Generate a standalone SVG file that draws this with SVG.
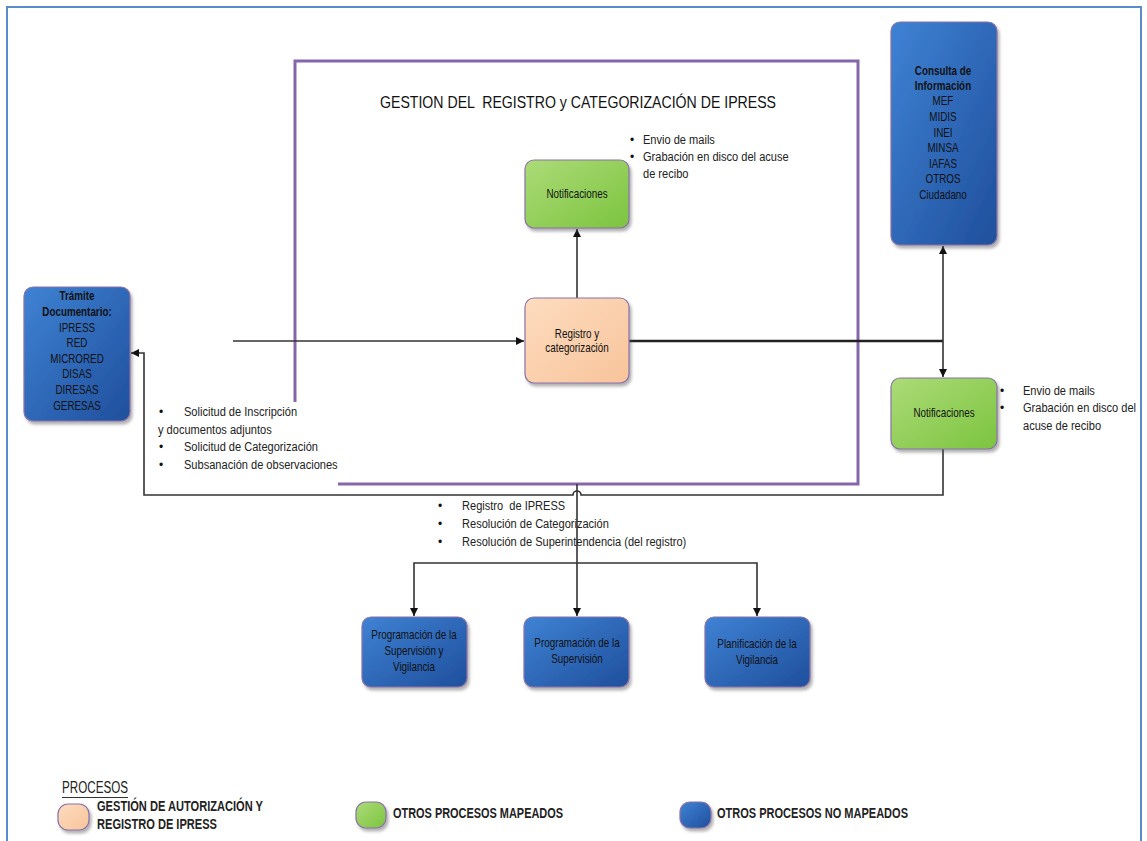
<svg xmlns="http://www.w3.org/2000/svg" width="1147" height="841" viewBox="0 0 1147 841">
  <defs>
    <linearGradient id="gBlue" x1="0" y1="0" x2="1" y2="1">
      <stop offset="0" stop-color="#3f82d4"/>
      <stop offset="1" stop-color="#1f4f9c"/>
    </linearGradient>
    <linearGradient id="gGreen" x1="0" y1="0" x2="1" y2="1">
      <stop offset="0" stop-color="#acdb78"/>
      <stop offset="1" stop-color="#7cc43f"/>
    </linearGradient>
    <linearGradient id="gPeach" x1="0" y1="0" x2="1" y2="1">
      <stop offset="0" stop-color="#fddcbf"/>
      <stop offset="1" stop-color="#f8c49b"/>
    </linearGradient>
    <filter id="shadow" x="-20%" y="-20%" width="140%" height="140%">
      <feDropShadow dx="2" dy="3" stdDeviation="1.5" flood-color="#555" flood-opacity="0.45"/>
    </filter>
    <marker id="arrow" viewBox="0 0 10 10" refX="10" refY="5" markerWidth="8" markerHeight="8" markerUnits="userSpaceOnUse" orient="auto">
      <path d="M0,0 L10,5 L0,10 z" fill="#111"/>
    </marker>
    <style>
      .node { stroke: #8a72a8; stroke-width: 1.2; filter: url(#shadow); }
      .blue { fill: url(#gBlue); }
      .green { fill: url(#gGreen); }
      .peach { fill: url(#gPeach); }
      .lbl { font-family: "Liberation Sans", Arial, sans-serif; font-size: 12px; fill: #111; text-anchor: middle; }
      .b { font-weight: bold; }
      .txt { font-family: "Liberation Sans", Arial, sans-serif; font-size: 13.5px; fill: #222; }
      .bul { font-family: "Liberation Sans", Arial, sans-serif; font-size: 12px; fill: #111; }
      .conn { fill: none; stroke: #333; stroke-width: 1.6; }
      .leg { font-family: "Liberation Sans", Arial, sans-serif; font-size: 14px; fill: #222; font-weight: bold; }
    </style>
  </defs>

  <rect width="1147" height="841" fill="#ffffff"/>

  <!-- page frame -->
  <path d="M7,841 V7 H1141 V841" fill="none" stroke="#5b8bc9" stroke-width="2"/>

  <!-- process boundary -->
  <g id="boundary">
    <path d="M295,402 V61 H858 V484 H338" fill="none" stroke="#8566ab" stroke-width="3"/>
    <text x="380" y="108" font-family="Liberation Sans, Arial, sans-serif" font-size="17" fill="#111" textLength="396" lengthAdjust="spacingAndGlyphs">GESTION DEL &#160;REGISTRO y CATEGORIZACIÓN DE IPRESS</text>
  </g>

  <!-- connectors -->
  <g id="connectors">
    <line x1="233" y1="341" x2="524" y2="341" class="conn" stroke="#444" marker-end="url(#arrow)"/>
    <line x1="577" y1="298" x2="577" y2="229" class="conn" marker-end="url(#arrow)"/>
    <line x1="629" y1="341" x2="943" y2="341" fill="none" stroke="#222" stroke-width="2.6"/>
    <line x1="943" y1="341" x2="943" y2="246" class="conn" marker-end="url(#arrow)"/>
    <line x1="943" y1="341" x2="943" y2="377" class="conn" marker-end="url(#arrow)"/>
    <path d="M943,449 V495 H581 A4,4 0 0,0 573,495 H144 V353 H131" class="conn" marker-end="url(#arrow)"/>
    <line x1="577" y1="484" x2="577" y2="616" class="conn" marker-end="url(#arrow)"/>
    <path d="M577,563 H414 V616" class="conn" marker-end="url(#arrow)"/>
    <path d="M577,563 H757 V616" class="conn" marker-end="url(#arrow)"/>
  </g>

  <!-- Trámite Documentario -->
  <g id="tramite">
    <rect x="24" y="287" width="106" height="134" rx="9" class="node blue"/>
    <g transform="translate(77,0) scale(0.82,1)">
      <text class="lbl b" x="0" y="300">Trámite</text>
      <text class="lbl b" x="0" y="316">Documentario:</text>
      <text class="lbl" x="0" y="332">IPRESS</text>
      <text class="lbl" x="0" y="347">RED</text>
      <text class="lbl" x="0" y="363">MICRORED</text>
      <text class="lbl" x="0" y="378">DISAS</text>
      <text class="lbl" x="0" y="394">DIRESAS</text>
      <text class="lbl" x="0" y="410">GERESAS</text>
    </g>
  </g>

  <!-- Notificaciones (interna) -->
  <g id="notif-top">
    <rect x="525" y="160" width="104" height="68" rx="9" class="node green"/>
    <g transform="translate(577,0) scale(0.82,1)">
      <text class="lbl" x="0" y="198">Notificaciones</text>
    </g>
  </g>

  <!-- Registro y categorización -->
  <g id="registro">
    <rect x="525" y="298" width="104" height="85" rx="9" class="node peach"/>
    <g transform="translate(577,0) scale(0.82,1)">
      <text class="lbl" x="0" y="338">Registro y</text>
      <text class="lbl" x="0" y="352">categorización</text>
    </g>
  </g>

  <!-- Consulta de Información -->
  <g id="consulta">
    <rect x="891" y="22" width="106" height="223" rx="9" class="node blue"/>
    <g transform="translate(943,0) scale(0.82,1)">
      <text class="lbl b" x="0" y="75">Consulta de</text>
      <text class="lbl b" x="0" y="90">Información</text>
      <text class="lbl" x="0" y="105">MEF</text>
      <text class="lbl" x="0" y="121">MIDIS</text>
      <text class="lbl" x="0" y="137">INEI</text>
      <text class="lbl" x="0" y="152">MINSA</text>
      <text class="lbl" x="0" y="168">IAFAS</text>
      <text class="lbl" x="0" y="183">OTROS</text>
      <text class="lbl" x="0" y="199">Ciudadano</text>
    </g>
  </g>

  <!-- Notificaciones (externa) -->
  <g id="notif-right">
    <rect x="891" y="378" width="106" height="71" rx="9" class="node green"/>
    <g transform="translate(944,0) scale(0.82,1)">
      <text class="lbl" x="0" y="417">Notificaciones</text>
    </g>
  </g>

  <!-- procesos de supervisión -->
  <g id="prog-sup-vig">
    <rect x="362" y="617" width="105" height="70" rx="9" class="node blue"/>
    <g transform="translate(414,0) scale(0.82,1)">
      <text class="lbl" x="0" y="639">Programación de la</text>
      <text class="lbl" x="0" y="655">Supervisión y</text>
      <text class="lbl" x="0" y="671">Vigilancia</text>
    </g>
  </g>
  <g id="prog-sup">
    <rect x="524" y="617" width="105" height="70" rx="9" class="node blue"/>
    <g transform="translate(577,0) scale(0.82,1)">
      <text class="lbl" x="0" y="647">Programación de la</text>
      <text class="lbl" x="0" y="663">Supervisión</text>
    </g>
  </g>
  <g id="plan-vig">
    <rect x="705" y="617" width="105" height="70" rx="9" class="node blue"/>
    <g transform="translate(757,0) scale(0.82,1)">
      <text class="lbl" x="0" y="648">Planificación de la</text>
      <text class="lbl" x="0" y="664">Vigilancia</text>
    </g>
  </g>

  <!-- notas -->
  <g id="note-notif-top">
    <text class="bul" x="630" y="144">•</text>
    <text class="bul" x="630" y="161">•</text>
    <g transform="translate(643,0) scale(0.82,1)">
      <text class="txt" x="0" y="144">Envio de mails</text>
      <text class="txt" x="0" y="161">Grabación en disco del acuse</text>
      <text class="txt" x="0" y="178">de recibo</text>
    </g>
  </g>
  <g id="note-solicitud">
    <text class="bul" x="159" y="416">•</text>
    <text class="bul" x="159" y="451">•</text>
    <text class="bul" x="159" y="469">•</text>
    <g transform="translate(184,0) scale(0.82,1)">
      <text class="txt" x="0" y="416">Solicitud de Inscripción</text>
      <text class="txt" x="0" y="451">Solicitud de Categorización</text>
      <text class="txt" x="0" y="469">Subsanación de observaciones</text>
    </g>
    <g transform="translate(158,0) scale(0.82,1)">
      <text class="txt" x="0" y="434">y documentos adjuntos</text>
    </g>
  </g>
  <g id="note-notif-right">
    <text class="bul" x="1000" y="395">•</text>
    <text class="bul" x="1000" y="412">•</text>
    <g transform="translate(1023,0) scale(0.82,1)">
      <text class="txt" x="0" y="395">Envio de mails</text>
      <text class="txt" x="0" y="412">Grabación en disco del</text>
      <text class="txt" x="0" y="430">acuse de recibo</text>
    </g>
  </g>
  <g id="note-resoluciones">
    <text class="bul" x="438" y="510">•</text>
    <text class="bul" x="438" y="528">•</text>
    <text class="bul" x="438" y="546">•</text>
    <g transform="translate(462,0) scale(0.82,1)">
      <text class="txt" x="0" y="510">Registro &#160;de IPRESS</text>
      <text class="txt" x="0" y="528">Resolución de Categorización</text>
      <text class="txt" x="0" y="546">Resolución de Superintendencia (del registro)</text>
    </g>
  </g>

  <!-- leyenda -->
  <g id="legend">
    <text x="62" y="793" font-family="Liberation Sans, Arial, sans-serif" font-size="16" fill="#222" textLength="66" lengthAdjust="spacingAndGlyphs">PROCESOS</text>
    <line x1="62" y1="797.5" x2="128" y2="797.5" stroke="#333" stroke-width="1.2"/>
    <rect x="58" y="804" width="31" height="26" rx="10" class="node peach"/>
    <text class="leg" x="97" y="811" textLength="166" lengthAdjust="spacingAndGlyphs">GESTIÓN DE AUTORIZACIÓN Y</text>
    <text class="leg" x="97" y="829" textLength="120" lengthAdjust="spacingAndGlyphs">REGISTRO DE IPRESS</text>
    <rect x="356" y="802" width="30" height="26" rx="10" class="node green"/>
    <text class="leg" x="393" y="818" textLength="170" lengthAdjust="spacingAndGlyphs">OTROS PROCESOS MAPEADOS</text>
    <rect x="680" y="802" width="31" height="26" rx="10" class="node blue"/>
    <text class="leg" x="717" y="818" textLength="191" lengthAdjust="spacingAndGlyphs">OTROS PROCESOS NO MAPEADOS</text>
  </g>
</svg>
